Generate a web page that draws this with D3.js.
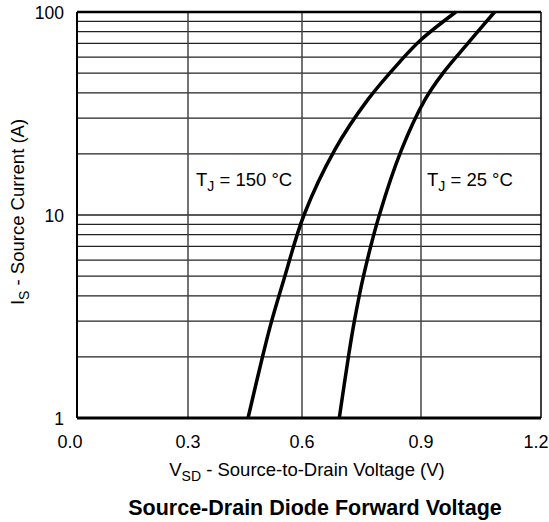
<!DOCTYPE html>
<html lang="en">
<head>
  <meta charset="UTF-8">
  <title>Source-Drain Diode Forward Voltage</title>
  <script src="https://d3js.org/d3.v7.min.js"></script>
  <style>
    body { margin: 0; background: #fff; }
    svg text { font-family: "Liberation Sans", Arial, Helvetica, sans-serif; fill: #000; }
  </style>
</head>
<body>
  <div id="chart"></div>

  <script>
  // values
  const xTicks = [0.0, 0.3, 0.6, 0.9, 1.2];
  const yTicks = [1, 10, 100];
  const curve150V = [0.458, 0.496, 0.520, 0.555, 0.605, 0.683, 0.766, 0.847, 0.900, 0.987];
  const curve150I = [1, 2, 3, 5, 10, 21, 37, 57, 73, 100];
  const curve25V = [0.694, 0.717, 0.732, 0.755, 0.795, 0.851, 0.910, 0.955, 1.017, 1.084];
  const curve25I = [1, 2, 3, 5, 10, 21, 37, 50, 70, 100];

  const W = 549, H = 522;
  const svg = d3.select("#chart").append("svg")
    .attr("width", W).attr("height", H);

  // the printed grid is slightly uneven, so map each tick to its own spot
  const x = d3.scaleLinear().domain(xTicks).range([77, 188, 302, 421, 541]);
  const y = d3.scaleLog().domain([1, 100]).range([418, 12]);

  // horizontal grid at every log step
  const minor = [];
  for (let d = 1; d < 100; d *= 10)
    for (let k = 2; k <= 9; k++) minor.push(d * k);
  minor.push(10);

  svg.append("g").selectAll("line")
    .data(minor)
    .enter().append("line")
    .attr("x1", x(0)).attr("x2", x(1.2))
    .attr("y1", d => y(d)).attr("y2", d => y(d))
    .attr("stroke", "#222").attr("stroke-width", 1.3);

  svg.append("g").selectAll("line")
    .data(xTicks.slice(1, -1))
    .enter().append("line")
    .attr("x1", d => x(d)).attr("x2", d => x(d))
    .attr("y1", y(1)).attr("y2", y(100))
    .attr("stroke", "#444").attr("stroke-width", 1.5);

  // frame
  svg.append("line").attr("x1", x(0)).attr("x2", x(1.2)).attr("y1", y(100)).attr("y2", y(100))
    .attr("stroke", "#000").attr("stroke-width", 2.5);
  svg.append("line").attr("x1", x(0)).attr("x2", x(1.2)).attr("y1", y(1)).attr("y2", y(1))
    .attr("stroke", "#000").attr("stroke-width", 3);
  svg.append("line").attr("x1", x(0)).attr("x2", x(0)).attr("y1", y(1)).attr("y2", y(100))
    .attr("stroke", "#000").attr("stroke-width", 2);
  svg.append("line").attr("x1", x(1.2)).attr("x2", x(1.2)).attr("y1", y(1)).attr("y2", y(100))
    .attr("stroke", "#000").attr("stroke-width", 1.5);

  // curves
  const line = d3.line()
    .x(d => x(d[0])).y(d => y(d[1]))
    .curve(d3.curveCatmullRom.alpha(0.5));

  [[curve150V, curve150I], [curve25V, curve25I]].forEach(([vs, is]) => {
    svg.append("path")
      .datum(vs.map((v, i) => [v, is[i]]))
      .attr("d", line)
      .attr("fill", "none")
      .attr("stroke", "#000")
      .attr("stroke-width", 3.5);
  });

  // tick labels (end ones nudged in, as printed)
  svg.append("g").selectAll("text")
    .data(xTicks)
    .enter().append("text")
    .attr("x", (d, i) => x(d) + (i === 0 ? -7 : i === xTicks.length - 1 ? -5 : 0))
    .attr("y", 448)
    .attr("text-anchor", "middle")
    .attr("font-size", 18)
    .text(d => d.toFixed(1));

  svg.append("g").selectAll("text")
    .data(yTicks)
    .enter().append("text")
    .attr("x", 64).attr("y", d => y(d) + 6.5)
    .attr("text-anchor", "end")
    .attr("font-size", 17.5)
    .text(d => d);

  // axis titles
  const xt = svg.append("text")
    .attr("x", 307).attr("y", 476)
    .attr("text-anchor", "middle")
    .attr("font-size", 18.5);
  xt.append("tspan").text("V");
  xt.append("tspan").attr("font-size", 14).attr("dy", 5).text("SD");
  xt.append("tspan").attr("dy", -5).text(" - Source-to-Drain Voltage (V)");

  const yt = svg.append("text")
    .attr("transform", "translate(24,212) rotate(-90)")
    .attr("text-anchor", "middle")
    .attr("font-size", 18.5);
  yt.append("tspan").text("I");
  yt.append("tspan").attr("font-size", 14).attr("dy", 5).text("S");
  yt.append("tspan").attr("dy", -5).text(" - Source Current (A)");

  // curve labels
  function tjLabel(px, py, temp) {
    const t = svg.append("text").attr("x", px).attr("y", py).attr("font-size", 18.5);
    t.append("tspan").text("T");
    t.append("tspan").attr("font-size", 14).attr("dy", 5).text("J");
    t.append("tspan").attr("dy", -5).text(" = " + temp + " °C");
  }
  tjLabel(196, 186, 150);
  tjLabel(427, 186, 25);

  svg.append("text")
    .attr("x", 315).attr("y", 515)
    .attr("text-anchor", "middle")
    .attr("font-size", 21.5)
    .attr("font-weight", "bold")
    .text("Source-Drain Diode Forward Voltage");
  </script>
</body>
</html>
